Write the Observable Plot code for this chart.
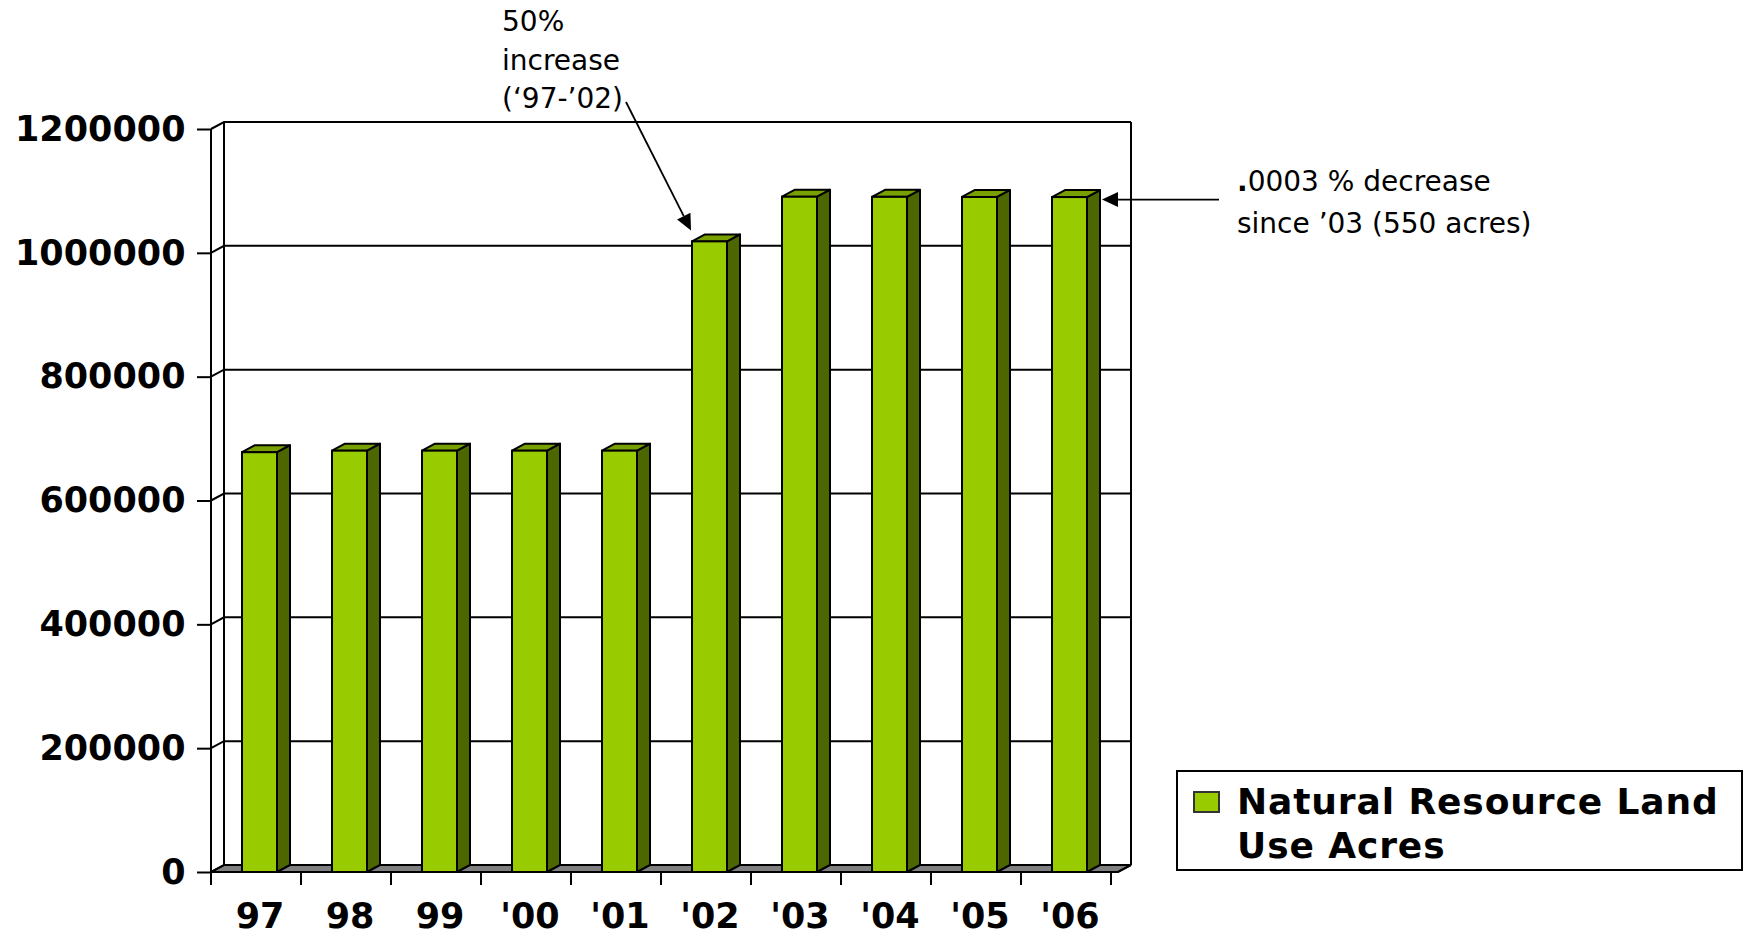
<!DOCTYPE html>
<html>
<head>
<meta charset="utf-8">
<script src="https://cdn.jsdelivr.net/npm/d3@7"></script>
<script src="https://cdn.jsdelivr.net/npm/@observablehq/plot@0.6"></script>
<style>
  html, body { margin: 0; padding: 0; background: #fff; }
  #wrap { position: relative; width: 1748px; height: 938px; overflow: hidden; }
  #chart { position: absolute; left: 0; top: 0; }
  .note { position: absolute; font-family: "DejaVu Sans", sans-serif; font-size: 28px; color: #000; white-space: nowrap; }
  #legend { position: absolute; left: 1176px; top: 770px; width: 567px; height: 101px; box-sizing: border-box;
            border: 2px solid #000; background: #fff; }
  #swatch { position: absolute; left: 1193px; top: 791px; width: 27px; height: 22px; box-sizing: border-box;
            background: #99cc00; border: 2px solid #333; }
  #legtext { position: absolute; left: 1237px; top: 780px; font-family: "DejaVu Sans", sans-serif; font-weight: bold;
             font-size: 36px; line-height: 44px; letter-spacing: 0.9px; white-space: nowrap; color: #000; }
</style>
</head>
<body>
<div id="wrap">
  <div id="chart"></div>
  <div class="note" style="left:502px; top:3px; line-height:38.5px;">50%<br>increase<br>(‘97-’02)</div>
  <div class="note" style="left:1237px; top:161px; line-height:42px;"><b>.</b>0003 % decrease<br>since ’03 (550 acres)</div>
  <div id="legend"></div>
  <div id="swatch"></div>
  <div id="legtext">Natural Resource Land<br>Use Acres</div>
</div>
<script>
// ---- data ----
const years = ["97", "98", "99", "'00", "'01", "'02", "'03", "'04", "'05", "'06"];
const acres = [678000, 680500, 680500, 680500, 680500, 1018500, 1090600, 1090400, 1090200, 1090050];
const yTicks = [0, 200000, 400000, 600000, 800000, 1000000, 1200000];
const seriesName = "Natural Resource Land Use Acres";

const data = years.map((year, i) => ({year, value: acres[i]}));

const FRONT = "#99cc00", SIDE = "#4c6600", TOP = "#78a000", FLOOR = "#808080";
const DX = 13, DY = -7;

function decorations(index, scales) {
  const x = scales.x, y = scales.y;
  const bw = x.bandwidth(), step = x.step();
  const [x0, x1] = x.range();
  const y0 = y(0), yTop = y(yTicks[yTicks.length - 1]);
  const g = d3.create("svg:g").attr("fill", "none").attr("stroke", "#000").attr("stroke-width", 2);
  // floor
  g.append("path")
    .attr("d", `M${x0},${y0}L${x1},${y0}L${x1 + DX},${y0 + DY}L${x0 + DX},${y0 + DY}Z`)
    .attr("fill", FLOOR).attr("stroke-width", 1.5);
  // back wall grid lines (with diagonal from the front axis)
  for (const t of yTicks) {
    const yy = y(t);
    g.append("path").attr("d", `M${x0},${yy}L${x0 + DX},${yy + DY}L${x1 + DX},${yy + DY}`);
  }
  // back wall verticals
  g.append("path").attr("d", `M${x0 + DX},${y0 + DY}L${x0 + DX},${yTop + DY}`);
  g.append("path").attr("d", `M${x1 + DX},${y0 + DY}L${x1 + DX},${yTop + DY}`);
  // front value axis line and floor front edge
  g.append("path").attr("d", `M${x0},${yTop}L${x0},${y0}L${x1},${y0}L${x1 + DX},${y0 + DY}`);
  // category ticks at band boundaries
  for (let i = 0; i <= years.length; i++) {
    const xx = x0 + i * step;
    g.append("path").attr("d", `M${xx},${y0}L${xx},${y0 + 13}`);
  }
  // bar side and top faces
  for (const d of data) {
    const fx = x(d.year), fr = fx + bw, top = y(d.value);
    g.append("path")
      .attr("d", `M${fr},${y0}L${fr},${top}L${fr + DX},${top + DY}L${fr + DX},${y0 + DY}Z`)
      .attr("fill", SIDE).attr("stroke-linejoin", "round");
    g.append("path")
      .attr("d", `M${fx},${top}L${fr},${top}L${fr + DX},${top + DY}L${fx + DX},${top + DY}Z`)
      .attr("fill", TOP).attr("stroke-linejoin", "round");
  }
  return g.node();
}

function arrows(index, scales) {
  const x = scales.x, y = scales.y, bw = x.bandwidth();
  const g = d3.create("svg:g");
  const draw = (sx, sy, tx, ty) => {
    const a = Math.atan2(ty - sy, tx - sx), L = 16, W = 7.5;
    const bx = tx - L * Math.cos(a), by = ty - L * Math.sin(a);
    g.append("line").attr("x1", sx).attr("y1", sy).attr("x2", bx).attr("y2", by)
      .attr("stroke", "#000").attr("stroke-width", 1.8);
    g.append("path")
      .attr("d", `M${tx},${ty}L${bx + W * Math.sin(a)},${by - W * Math.cos(a)}L${bx - W * Math.sin(a)},${by + W * Math.cos(a)}Z`)
      .attr("fill", "#000");
  };
  const i02 = years.indexOf("'02"), i06 = years.indexOf("'06");
  draw(626, 102, x(years[i02]) - 1, y(acres[i02]) - 11);
  draw(1219, y(acres[i06]) + 2.5, x(years[i06]) + bw + DX + 2, y(acres[i06]) + 2.5);
  return g.node();
}

const font = {fontFamily: "DejaVu Sans", fontWeight: "bold", fontSize: 35};

const chart = Plot.plot({
  width: 1748,
  height: 938,
  marginLeft: 211,
  marginRight: 630,
  marginTop: 129,
  marginBottom: 66,
  style: {background: "transparent", color: "#000", fontFamily: "DejaVu Sans", fontSize: "35px", fontWeight: "bold", overflow: "visible"},
  x: {domain: years, paddingInner: 0.61, paddingOuter: 0.305, align: 0.5, axis: null},
  y: {domain: [0, 1200000], axis: null},
  marks: [
    decorations,
    Plot.barY(data, {x: "year", y: "value", fill: FRONT, stroke: "#000", strokeWidth: 2, title: d => `${seriesName}: ${d.value}`}),
    Plot.axisY(yTicks, {tickSize: 14, tickPadding: 12, tickFormat: d3.format("d"), strokeWidth: 2, label: null, ...font}),
    Plot.axisX({tickSize: 0, tickPadding: 31, label: null, ...font}),
    arrows
  ]
});
document.getElementById("chart").appendChild(chart);
</script>
</body>
</html>
